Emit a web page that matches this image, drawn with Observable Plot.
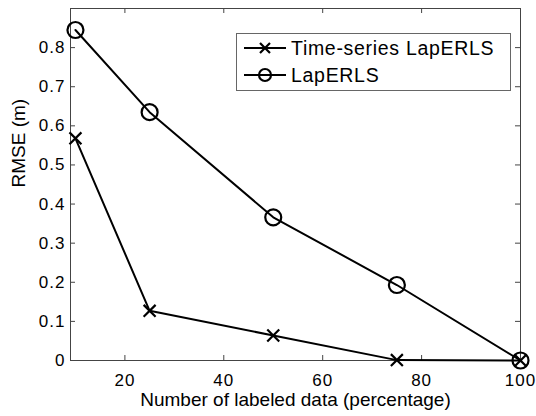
<!DOCTYPE html>
<html>
<head>
<meta charset="utf-8">
<script src="https://cdn.jsdelivr.net/npm/d3@7"></script>
<script src="https://cdn.jsdelivr.net/npm/@observablehq/plot@0.6"></script>
<style>
  html, body { margin: 0; padding: 0; background: #fff; }
  #wrap { position: relative; width: 536px; height: 416px; font-family: "Liberation Sans", Arial, sans-serif; }
  #legend { position: absolute; left: 236px; top: 33px; width: 275px; height: 58px; border: 1px solid #666; background: #fff; box-sizing: border-box; }
  .row { position: absolute; left: 6px; height: 22px; display: flex; align-items: center; font-size: 19.5px; letter-spacing: 0.7px; color: #000; white-space: nowrap; }
  .row svg { margin-right: 4px; }
</style>
</head>
<body>
<div id="wrap"></div>
<script>
const percent = [10, 25, 50, 75, 100];
const timeSeriesLapERLS = [0.568, 0.127, 0.064, 0.001, 0.0];
const lapERLS = [0.845, 0.635, 0.366, 0.193, 0.0];
const seriesNames = ["Time-series LapERLS", "LapERLS"];
const xTicks = [20, 40, 60, 80, 100];
const yTicks = [0, 0.1, 0.2, 0.3, 0.4, 0.5, 0.6, 0.7, 0.8];

const tsData = percent.map((x, i) => ({x, y: timeSeriesLapERLS[i]}));
const lapData = percent.map((x, i) => ({x, y: lapERLS[i]}));

const W = 536, H = 416, mL = 70, mR = 16, mT = 8, mB = 56;
const plotH = H - mT - mB, plotW = W - mL - mR;
const tickLen = 5;
const frameColor = "#444";

const chart = Plot.plot({
  width: W, height: H,
  marginLeft: mL, marginRight: mR, marginTop: mT, marginBottom: mB,
  style: { fontFamily: "Liberation Sans, Arial, sans-serif", background: "#fff", color: "#000" },
  x: { domain: [9, 100], label: null },
  y: { domain: [0, 0.9], label: null },
  marks: [
    Plot.tickX(xTicks, { x: d => d, stroke: frameColor, insetTop: plotH - tickLen }),
    Plot.tickX(xTicks, { x: d => d, stroke: frameColor, insetBottom: plotH - tickLen }),
    Plot.tickY(yTicks, { y: d => d, stroke: frameColor, insetRight: plotW - tickLen }),
    Plot.tickY(yTicks, { y: d => d, stroke: frameColor, insetLeft: plotW - tickLen }),
    Plot.axisX(xTicks, { tickSize: 0, tickPadding: 13, fontSize: 17, label: null }),
    Plot.axisY(yTicks, { tickSize: 0, tickPadding: 5, fontSize: 17, label: null, tickFormat: d => d === 0 ? "0" : d3.format(".1f")(d) }),
    Plot.frame({ stroke: frameColor }),
    Plot.line(tsData, { x: "x", y: "y", stroke: "#000", strokeWidth: 2 }),
    Plot.dot(tsData, { x: "x", y: "y", symbol: "times", r: 5.5, stroke: "#000", strokeWidth: 2.2 }),
    Plot.line(lapData, { x: "x", y: "y", stroke: "#000", strokeWidth: 2 }),
    Plot.dot(lapData, { x: "x", y: "y", symbol: "circle", r: 8, stroke: "#000", fill: "none", strokeWidth: 2.2 }),
    Plot.text(["Number of labeled data (percentage)"], { frameAnchor: "bottom", lineAnchor: "top", dy: 31.5, fontSize: 19, fill: "#000" }),
    Plot.text(["RMSE (m)"], { frameAnchor: "left", dx: -52, dy: 3, rotate: -90, fontSize: 19, fill: "#000" })
  ]
});

d3.select(chart).selectAll('g[aria-label="x-axis tick label"], g[aria-label="y-axis tick label"]').attr("letter-spacing", "1px");

const wrap = document.getElementById("wrap");
wrap.appendChild(chart);

// Legend overlay
const legend = document.createElement("div");
legend.id = "legend";
const symbols = ["times", "circle"];
seriesNames.forEach((name, i) => {
  const row = document.createElement("div");
  row.className = "row";
  row.style.top = (3 + i * 27) + "px";
  const s = d3.create("svg").attr("width", 44).attr("height", 22);
  s.append("line").attr("x1", 1).attr("x2", 43).attr("y1", 11).attr("y2", 11).attr("stroke", "#000").attr("stroke-width", 2);
  if (symbols[i] === "times") {
    s.append("path").attr("d", "M17,6L27,16M27,6L17,16").attr("stroke", "#000").attr("stroke-width", 2.2);
  } else {
    s.append("circle").attr("cx", 22).attr("cy", 11).attr("r", 6).attr("stroke", "#000").attr("stroke-width", 2.2).attr("fill", "none");
  }
  row.appendChild(s.node());
  const t = document.createElement("span");
  t.textContent = name;
  row.appendChild(t);
  legend.appendChild(row);
});
wrap.appendChild(legend);
</script>
</body>
</html>
